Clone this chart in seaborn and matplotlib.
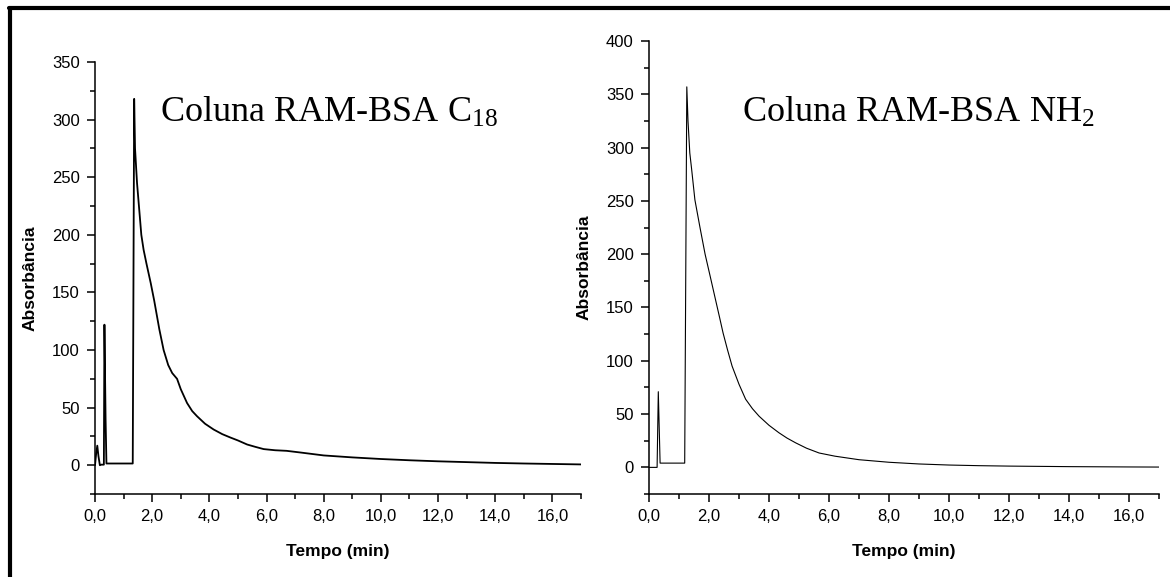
import matplotlib
matplotlib.use("Agg")
import matplotlib.pyplot as plt
from matplotlib.lines import Line2D
from matplotlib.ticker import MultipleLocator
import seaborn as sns
import pandas as pd

# chromatogram C18 column (time in min, absorbance)
t_c18 = [0.0, 0.04, 0.08, 0.12, 0.17, 0.22, 0.31, 0.33, 0.37, 0.40, 1.32, 1.37, 1.40,
         1.47, 1.55, 1.62, 1.70, 1.80, 1.95, 2.07, 2.25, 2.40, 2.56, 2.70, 2.87, 3.0,
         3.22, 3.40, 3.57, 3.85, 4.15, 4.45, 4.74, 5.0, 5.32, 5.6, 5.9, 6.3, 6.7, 7.2,
         8.0, 9.0, 10.0, 11.0, 12.0, 13.0, 14.0, 15.0, 16.0, 17.0]
abs_c18 = [0.0, 10, 17, 8, 0.0, 0.5, 0.5, 122, 40, 1.5, 1.5, 318, 275,
           245, 221, 200, 187, 175, 158, 143, 118, 100, 87, 80, 75, 66,
           54, 47, 42.5, 36, 31, 27, 24, 21.5, 18, 16, 14, 13, 12.5, 11,
           8.5, 6.8, 5.4, 4.3, 3.4, 2.7, 2.0, 1.5, 1.1, 0.7]

# chromatogram NH2 column
t_nh2 = [0.0, 0.27, 0.31, 0.37, 1.19, 1.26, 1.30, 1.36, 1.42, 1.53, 1.70, 1.87, 2.05,
         2.22, 2.35, 2.47, 2.62, 2.77, 3.0, 3.22, 3.45, 3.67, 4.0, 4.33, 4.6, 4.89,
         5.25, 5.67, 6.2, 7.0, 8.0, 9.0, 10.0, 11.0, 12.0, 14.0, 16.0, 17.0]
abs_nh2 = [0.0, 0.0, 71, 4, 4, 357, 325, 295, 280, 251, 225, 200, 178,
           157, 141, 126, 110, 95, 78, 64, 55, 48, 39.5, 32.5, 27.5, 23,
           18, 13.5, 10.5, 7.2, 4.8, 3.2, 2.2, 1.6, 1.2, 0.7, 0.4, 0.3]

titles = ["Coluna RAM-BSA C$_{18}$", "Coluna RAM-BSA NH$_{2}$"]
x_ticks = [0, 2, 4, 6, 8, 10, 12, 14, 16]
x_ticklabels = ["0,0", "2,0", "4,0", "6,0", "8,0", "10,0", "12,0", "14,0", "16,0"]
y_ticks_c18 = [0, 50, 100, 150, 200, 250, 300, 350]
y_ticks_nh2 = [0, 50, 100, 150, 200, 250, 300, 350, 400]
x_label = "Tempo (min)"
y_label = "Absorbância"

sns.set_theme(style="ticks")
plt.rcParams["font.family"] = ["Liberation Sans", "DejaVu Sans"]
plt.rcParams["mathtext.fontset"] = "custom"
plt.rcParams["mathtext.rm"] = "Liberation Serif"
plt.rcParams["mathtext.it"] = "Liberation Serif:italic"
plt.rcParams["text.color"] = "black"
plt.rcParams["axes.labelcolor"] = "black"

fig = plt.figure(figsize=(11.7, 5.77), dpi=100)
ax1 = fig.add_axes([0.0812, 0.1438, 0.4154, 0.7487])
ax2 = fig.add_axes([0.5547, 0.1438, 0.4359, 0.7851])

df1 = pd.DataFrame({"t": t_c18, "a": abs_c18})
df2 = pd.DataFrame({"t": t_nh2, "a": abs_nh2})
sns.lineplot(data=df1, x="t", y="a", ax=ax1, sort=False, estimator=None,
             color="black", linewidth=1.3)
sns.lineplot(data=df2, x="t", y="a", ax=ax2, sort=False, estimator=None,
             color="black", linewidth=0.8)

setups = [(ax1, y_ticks_c18, (-25, 350), titles[0], (0.134, 0.861)),
          (ax2, y_ticks_nh2, (-25, 400), titles[1], (0.182, 0.821))]
for ax, yt, yl, title, pos in setups:
    ax.set_xlim(0, 17)
    ax.set_ylim(*yl)
    ax.set_xticks(x_ticks)
    ax.set_xticklabels(x_ticklabels)
    ax.set_yticks(yt)
    ax.set_yticklabels([str(v) for v in yt])
    ax.xaxis.set_minor_locator(MultipleLocator(1))
    ax.yaxis.set_minor_locator(MultipleLocator(25))
    ax.tick_params(which="major", direction="out", length=6, width=1.1,
                   labelsize=12, colors="black", pad=5)
    ax.tick_params(which="minor", direction="out", length=3.5, width=1.1, colors="black")
    for s in ["top", "right"]:
        ax.spines[s].set_visible(False)
    for s in ["left", "bottom"]:
        ax.spines[s].set_linewidth(1.1)
        ax.spines[s].set_color("black")
    ax.set_xlabel(x_label, fontsize=12.5, fontweight="bold", labelpad=14, color="black")
    ax.set_ylabel(y_label, fontsize=12.5, fontweight="bold", labelpad=10, color="black")
    ax.text(pos[0], pos[1], title, transform=ax.transAxes, fontsize=26,
            family="Liberation Serif", ha="left", va="baseline", color="black")
    ax.set_facecolor("white")

# frame lines on the left and top edges
fig.add_artist(Line2D([0.0088, 0.0088], [0, 0.987], transform=fig.transFigure,
                      color="black", linewidth=3))
fig.add_artist(Line2D([0.0075, 1.0], [0.986, 0.986], transform=fig.transFigure,
                      color="black", linewidth=3))

fig.savefig("out.png", dpi=100, facecolor="white")
